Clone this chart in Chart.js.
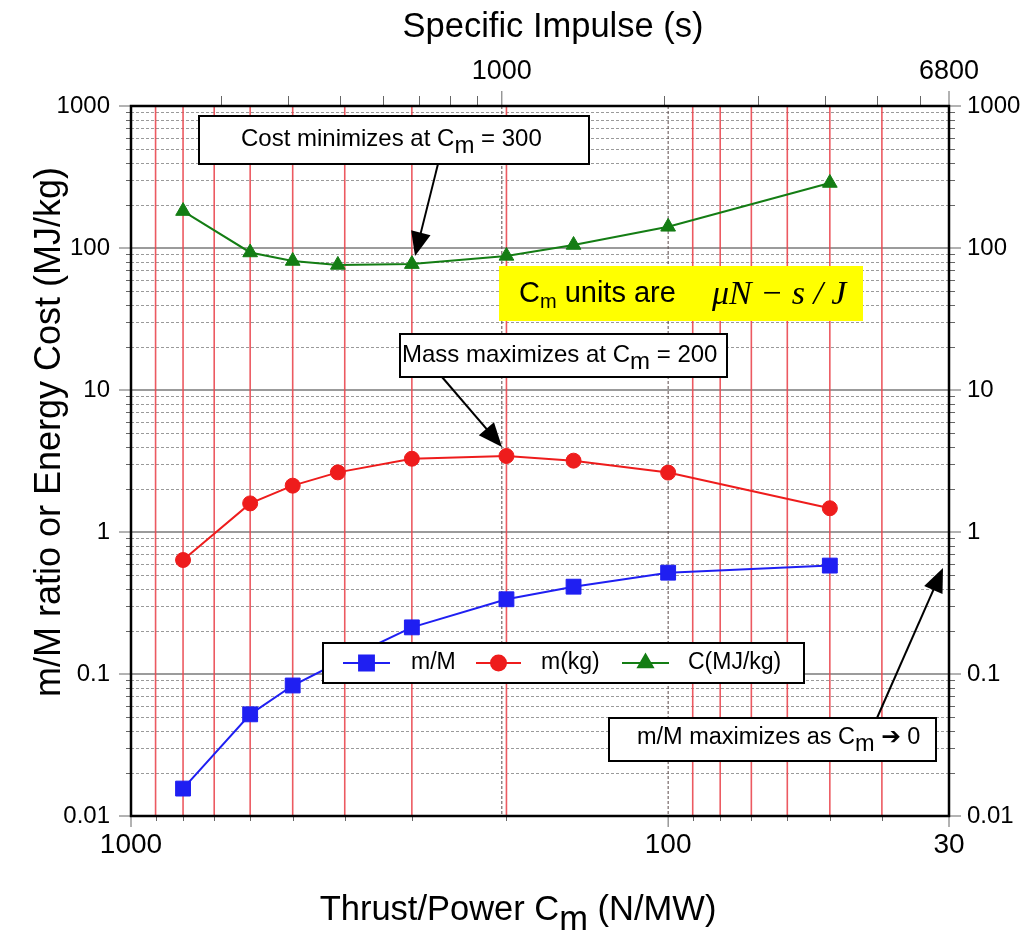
<!DOCTYPE html>
<html lang="en">
<head>
    <meta charset="UTF-8">
    <meta name="viewport" content="width=device-width, initial-scale=1.0">
    <title>Thrust/Power vs Specific Impulse</title>
    <script src="https://cdn.jsdelivr.net/npm/chart.js"></script>
    <style>
        body {
            margin: 0;
            background-color: #ffffff;
        }
        .chart-container {
            position: relative;
            width: 1028px;
            height: 935px;
        }
    </style>
</head>
<body>
    <div class="chart-container">
        <canvas id="myChart"></canvas>
    </div>

    <script>
        // Thrust/Power Cm (N/MW) of each design point
        const cmValues = [800, 600, 500, 412, 300, 200, 150, 100, 50];
        // series
        const massRatio = [0.0156, 0.052, 0.083, 0.12, 0.213, 0.336, 0.412, 0.517, 0.58];
        const massKg = [0.635, 1.59, 2.12, 2.63, 3.28, 3.43, 3.18, 2.62, 1.47];
        const costMJ = [182, 93, 81, 76, 77, 88, 105, 141, 287];

        // axis ticks
        const yTickValues = [0.01, 0.1, 1, 10, 100, 1000];
        const yTickLabels = ['0.01', '0.1', '1', '10', '100', '1000'];
        const xTickValues = [1000, 100, 30];
        const xTickLabels = ['1000', '100', '30'];
        const ispTickValues = [1000, 6800];
        const ispTickLabels = ['1000', '6800'];
        const ispMinorTicks = [300, 400, 500, 600, 700, 800, 900, 2000, 3000, 4000, 5000, 6000];
        const cmMinorGrid = [900, 800, 700, 600, 500, 400, 300, 200, 90, 80, 70, 60, 50, 40];

        // Isp * Cm = const (Cm = 30 N/MW <-> Isp = 6800 s)
        const ISP_CM = 6800 * 30;

        const FONT = '"Liberation Sans", Arial, sans-serif';
        const BLUE = '#1f1ff2';
        const RED = '#ee1c1c';
        const GREEN = '#147d14';

        function richText(c, parts, x, y, align) {
            let w = 0;
            parts.forEach(p => { c.font = p[1]; w += c.measureText(p[0]).width; });
            let cx = align === 'center' ? x - w / 2 : x;
            c.textAlign = 'left';
            c.textBaseline = 'middle';
            parts.forEach(p => {
                c.font = p[1];
                c.fillText(p[0], cx, y + (p[2] || 0));
                cx += c.measureText(p[0]).width;
            });
        }

        function arrow(c, x1, y1, x2, y2) {
            const a = Math.atan2(y2 - y1, x2 - x1);
            const L = 24, W = 10;
            c.strokeStyle = '#000';
            c.fillStyle = '#000';
            c.lineWidth = 2;
            c.beginPath();
            c.moveTo(x1, y1);
            c.lineTo(x2 - L * 0.8 * Math.cos(a), y2 - L * 0.8 * Math.sin(a));
            c.stroke();
            c.beginPath();
            c.moveTo(x2, y2);
            c.lineTo(x2 - L * Math.cos(a) + W * Math.sin(a), y2 - L * Math.sin(a) - W * Math.cos(a));
            c.lineTo(x2 - L * Math.cos(a) - W * Math.sin(a), y2 - L * Math.sin(a) + W * Math.cos(a));
            c.closePath();
            c.fill();
        }

        function box(c, x, y, w, h, fill) {
            c.fillStyle = fill;
            c.fillRect(x, y, w, h);
            if (fill === '#ffffff') {
                c.strokeStyle = '#000';
                c.lineWidth = 2;
                c.strokeRect(x, y, w, h);
            }
        }

        function decadeValues(lo, hi) {
            const out = [];
            for (let d = lo; d < hi; d++) {
                for (let k = 2; k <= 9; k++) out.push(k * Math.pow(10, d));
            }
            return out;
        }

        const gridPlugin = {
            id: 'logGrid',
            beforeDatasetsDraw(chart) {
                const c = chart.ctx;
                const a = chart.chartArea;
                const x = chart.scales.x, y = chart.scales.y;
                c.save();
                c.beginPath();
                c.rect(a.left, a.top, a.right - a.left, a.bottom - a.top);
                c.clip();
                // minor horizontal
                c.strokeStyle = '#9a9a9a';
                c.lineWidth = 1;
                c.setLineDash([3, 2]);
                decadeValues(-2, 3).forEach(v => {
                    const py = Math.round(y.getPixelForValue(v)) + 0.5;
                    c.beginPath(); c.moveTo(a.left, py); c.lineTo(a.right, py); c.stroke();
                });
                // major horizontal
                c.setLineDash([]);
                c.strokeStyle = '#7a7a7a';
                c.lineWidth = 1.5;
                yTickValues.forEach(v => {
                    const py = y.getPixelForValue(v);
                    c.beginPath(); c.moveTo(a.left, py); c.lineTo(a.right, py); c.stroke();
                });
                // red vertical grid
                c.strokeStyle = 'rgba(234,72,80,0.9)';
                c.lineWidth = 1.6;
                cmMinorGrid.forEach(v => {
                    const px = x.getPixelForValue(v);
                    c.beginPath(); c.moveTo(px, a.top); c.lineTo(px, a.bottom); c.stroke();
                });
                // dashed major verticals (Cm = 100, Isp = 1000)
                c.strokeStyle = '#5a4a4a';
                c.lineWidth = 1;
                c.setLineDash([3, 2]);
                [x.getPixelForValue(100), chart.scales.xIsp.getPixelForValue(1000)].forEach(px => {
                    c.beginPath(); c.moveTo(px, a.top); c.lineTo(px, a.bottom); c.stroke();
                });
                c.restore();
            }
        };

        const annotPlugin = {
            id: 'annotations',
            afterDatasetsDraw(chart) {
                const c = chart.ctx;
                const a = chart.chartArea;
                const x = chart.scales.x, y = chart.scales.y, isp = chart.scales.xIsp;
                c.save();

                // tick marks
                c.strokeStyle = '#666';
                c.lineWidth = 1;
                decadeValues(-2, 3).forEach(v => {
                    const py = Math.round(y.getPixelForValue(v)) + 0.5;
                    c.beginPath(); c.moveTo(a.left - 5, py); c.lineTo(a.left, py); c.stroke();
                    c.beginPath(); c.moveTo(a.right, py); c.lineTo(a.right + 6, py); c.stroke();
                });
                yTickValues.forEach(v => {
                    const py = y.getPixelForValue(v);
                    c.beginPath(); c.moveTo(a.left - 12, py); c.lineTo(a.left, py); c.stroke();
                    c.beginPath(); c.moveTo(a.right, py); c.lineTo(a.right + 12, py); c.stroke();
                });
                cmMinorGrid.forEach(v => {
                    const px = Math.round(x.getPixelForValue(v)) + 0.5;
                    c.beginPath(); c.moveTo(px, a.bottom); c.lineTo(px, a.bottom + 5); c.stroke();
                });
                xTickValues.forEach(v => {
                    const px = x.getPixelForValue(v);
                    c.beginPath(); c.moveTo(px, a.bottom); c.lineTo(px, a.bottom + 11); c.stroke();
                });
                ispMinorTicks.forEach(v => {
                    const px = Math.round(isp.getPixelForValue(v)) + 0.5;
                    c.beginPath(); c.moveTo(px, a.top); c.lineTo(px, a.top - 10); c.stroke();
                });
                ispTickValues.forEach(v => {
                    const px = isp.getPixelForValue(v);
                    c.beginPath(); c.moveTo(px, a.top); c.lineTo(px, a.top - 15); c.stroke();
                });

                // frame
                c.strokeStyle = '#000';
                c.lineWidth = 2.5;
                c.strokeRect(a.left, a.top, a.right - a.left, a.bottom - a.top);

                const f24 = '24px ' + FONT;
                c.fillStyle = '#000';

                // Cost minimizes
                box(c, 199, 116, 390, 48, '#ffffff');
                c.fillStyle = '#000';
                richText(c, [['Cost minimizes at C', f24], ['m', f24, 7], [' = 300', f24]], 241, 139, 'left');
                arrow(c, 438, 164, 415, 256);

                // yellow units box
                box(c, 499, 266, 364, 55, '#ffff00');
                c.fillStyle = '#000';
                richText(c, [['C', '29px ' + FONT], ['m', '20px ' + FONT, 8], [' units are', '29px ' + FONT]], 519, 294, 'left');
                richText(c, [['\u03bcN \u2212 s / J', 'italic 34px "Liberation Serif", "Times New Roman", serif']], 712, 295, 'left');

                // Mass maximizes
                box(c, 400, 334, 327, 43, '#ffffff');
                c.fillStyle = '#000';
                richText(c, [['Mass maximizes at C', f24], ['m', f24, 7], [' = 200', f24]], 402, 355, 'left');
                arrow(c, 442, 377, 502, 447);

                // m/M maximizes
                box(c, 609, 718, 327, 43, '#ffffff');
                c.fillStyle = '#000';
                richText(c, [['m/M maximizes as C', '23.5px ' + FONT], ['m', '23.5px ' + FONT, 7], [' \u2794 0', '23.5px ' + FONT + ', "DejaVu Sans"']], 637, 738, 'left');
                arrow(c, 877, 718, 943, 568);

                // legend
                box(c, 323, 643, 481, 40, '#ffffff');
                const ly = 663;
                const items = [
                    { x1: 343, x2: 390, tx: 411, ds: chart.data.datasets[0] },
                    { x1: 476, x2: 521, tx: 541, ds: chart.data.datasets[1] },
                    { x1: 622, x2: 669, tx: 688, ds: chart.data.datasets[2] }
                ];
                items.forEach(it => {
                    c.strokeStyle = it.ds.borderColor;
                    c.lineWidth = 2;
                    c.beginPath(); c.moveTo(it.x1, ly); c.lineTo(it.x2, ly); c.stroke();
                    Chart.helpers.drawPoint(c, {
                        pointStyle: it.ds.pointStyle, radius: it.ds.pointRadius, borderWidth: 1, rotation: 0
                    }, (it.x1 + it.x2) / 2, ly);
                    c.fillStyle = it.ds.borderColor;
                    c.fill();
                    c.fillStyle = '#000';
                    richText(c, [[it.ds.label, '23px ' + FONT]], it.tx, ly, 'left');
                });
                c.restore();
            },
            afterDraw(chart) {
                const c = chart.ctx;
                c.save();
                c.fillStyle = '#000';
                const f35 = '34.5px ' + FONT;
                richText(c, [['Specific Impulse (s)', f35]], 553, 27, 'center');
                richText(c, [['Thrust/Power C', f35], ['m', f35, 10], [' (N/MW)', f35]], 518, 910, 'center');
                c.translate(50, 432);
                c.rotate(-Math.PI / 2);
                richText(c, [['m/M ratio or Energy Cost (MJ/kg)', '36px ' + FONT]], 0, 0, 'center');
                c.restore();
            }
        };

        function toPoints(values) {
            return cmValues.map((cm, i) => ({ x: cm, y: values[i] }));
        }

        const yScale = (position, width) => ({
            type: 'logarithmic',
            position: position,
            min: 0.01,
            max: 1000,
            afterFit: s => { s.width = width; },
            afterBuildTicks: s => { s.ticks = yTickValues.map(v => ({ value: v })); },
            grid: { display: false, drawTicks: false },
            border: { display: false },
            ticks: {
                autoSkip: false,
                padding: position === 'left' ? 21 : 18,
                color: '#000',
                font: { family: FONT, size: 24 },
                callback: (v, i) => yTickLabels[i]
            }
        });

        const ctx = document.getElementById('myChart').getContext('2d');
        new Chart(ctx, {
            type: 'line',
            data: {
                datasets: [
                    {
                        label: 'm/M',
                        data: toPoints(massRatio),
                        borderColor: BLUE,
                        backgroundColor: BLUE,
                        borderWidth: 2,
                        pointStyle: 'rect',
                        pointRadius: 10.5,
                        pointBorderWidth: 1,
                        xAxisID: 'x',
                        yAxisID: 'y'
                    },
                    {
                        label: 'm(kg)',
                        data: toPoints(massKg),
                        borderColor: RED,
                        backgroundColor: RED,
                        borderWidth: 2,
                        pointStyle: 'circle',
                        pointRadius: 7.5,
                        pointBorderWidth: 1,
                        xAxisID: 'x',
                        yAxisID: 'y'
                    },
                    {
                        label: 'C(MJ/kg)',
                        data: toPoints(costMJ),
                        borderColor: GREEN,
                        backgroundColor: GREEN,
                        borderWidth: 2,
                        pointStyle: 'triangle',
                        pointRadius: 8.5,
                        pointBorderWidth: 1,
                        xAxisID: 'x',
                        yAxisID: 'y'
                    }
                ]
            },
            options: {
                responsive: true,
                maintainAspectRatio: false,
                animation: false,
                layout: { padding: 0 },
                plugins: {
                    legend: { display: false },
                    tooltip: { enabled: false }
                },
                scales: {
                    x: {
                        type: 'logarithmic',
                        position: 'bottom',
                        reverse: true,
                        min: 30,
                        max: 1000,
                        afterFit: s => { s.height = 119; },
                        afterBuildTicks: s => { s.ticks = xTickValues.map(v => ({ value: v })); },
                        grid: { display: false, drawTicks: false },
                        border: { display: false },
                        ticks: {
                            autoSkip: false,
                            maxRotation: 0,
                            padding: 12,
                            color: '#000',
                            font: { family: FONT, size: 28 },
                            callback: (v, i) => xTickLabels[i]
                        }
                    },
                    xIsp: {
                        type: 'logarithmic',
                        position: 'top',
                        min: ISP_CM / 1000,
                        max: ISP_CM / 30,
                        afterFit: s => { s.height = 106; },
                        afterBuildTicks: s => { s.ticks = ispTickValues.map(v => ({ value: v })); },
                        grid: { display: false, drawTicks: false },
                        border: { display: false },
                        ticks: {
                            autoSkip: false,
                            maxRotation: 0,
                            padding: 18,
                            color: '#000',
                            font: { family: FONT, size: 27 },
                            callback: (v, i) => ispTickLabels[i]
                        }
                    },
                    y: yScale('left', 131),
                    y2: yScale('right', 79)
                }
            },
            plugins: [gridPlugin, annotPlugin]
        });
    </script>
</body>
</html>
